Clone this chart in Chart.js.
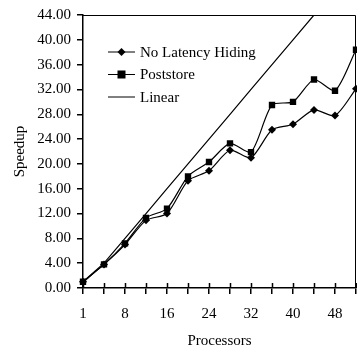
<!DOCTYPE html>
<html>
<head>
<meta charset="utf-8">
<script src="https://cdn.jsdelivr.net/npm/chart.js@4/dist/chart.umd.min.js"></script>
<style>
html,body{margin:0;padding:0;background:#fff;}
#wrap{width:357px;height:349px;position:relative;}
</style>
</head>
<body>
<div id="wrap"><canvas id="c" width="357" height="349"></canvas></div>
<script>
const processors = ['1','4','8','12','16','20','24','28','32','36','40','44','48','52'];
const noLatencyHiding = [1.0, 3.8, 7.0, 10.9, 12.0, 17.3, 18.9, 22.2, 21.0, 25.5, 26.4, 28.7, 27.8, 32.1];
const poststore = [1.0, 3.8, 7.2, 11.3, 12.8, 18.0, 20.3, 23.3, 21.9, 29.5, 30.0, 33.6, 31.8, 38.4];
const linear = [1, 4, 8, 12, 16, 20, 24, 28, 32, 36, 40, 44, 48, 52];
const seriesNames = ['No Latency Hiding', 'Poststore', 'Linear'];
const yMin = 0, yMax = 44, yStep = 4;

const FONT = '"Liberation Serif", "Times New Roman", serif';

const framePlugin = {
  id: 'frame',
  afterDraw(chart) {
    const ctx = chart.ctx, a = chart.chartArea;
    ctx.save();
    ctx.strokeStyle = '#000';
    ctx.lineWidth = 1;
    ctx.beginPath();
    ctx.moveTo(a.left, a.top + 0.5);
    ctx.lineTo(a.right - 0.5, a.top + 0.5);
    ctx.lineTo(a.right - 0.5, a.bottom);
    ctx.stroke();
    // inner halves of x ticks (ticks cross the axis)
    const xs = chart.scales.x;
    ctx.lineWidth = 1.5;
    ctx.beginPath();
    for (let i = 0; i < processors.length; i++) {
      const px = Math.round(xs.getPixelForValue(i)) + 0.5;
      ctx.moveTo(px, a.bottom);
      ctx.lineTo(px, a.bottom - 5);
    }
    ctx.stroke();
    // legend
    const items = chart.data.datasets;
    const lx0 = 108, lx1 = 135, tx = 140;
    const ys = [52, 74.5, 97];
    ctx.font = '15px ' + FONT;
    ctx.textBaseline = 'middle';
    ctx.fillStyle = '#000';
    items.forEach((ds, i) => {
      const y = ys[i];
      ctx.strokeStyle = '#000';
      ctx.lineWidth = 1;
      ctx.beginPath();
      ctx.moveTo(lx0, y);
      ctx.lineTo(lx1, y);
      ctx.stroke();
      const cx = (lx0 + lx1) / 2;
      if (ds.pointStyle === 'rectRot') {
        ctx.beginPath();
        ctx.moveTo(cx, y - 4); ctx.lineTo(cx + 4, y); ctx.lineTo(cx, y + 4); ctx.lineTo(cx - 4, y); ctx.closePath();
        ctx.fill();
      } else if (ds.pointStyle === 'rect') {
        ctx.fillRect(cx - 4, y - 4, 8, 8);
      }
      ctx.fillText(ds.label, tx, y + 1);
    });
    ctx.restore();
  }
};

function zeroPad(s) { s.paddingLeft = 0; s.paddingRight = 0; s.paddingTop = 0; s.paddingBottom = 0; }

new Chart(document.getElementById('c'), {
  type: 'line',
  data: {
    labels: processors,
    datasets: [
      { label: seriesNames[0], data: noLatencyHiding, borderColor: '#000', backgroundColor: '#000', borderWidth: 1.2,
        pointStyle: 'rectRot', pointRadius: 4, pointBorderWidth: 0, tension: 0.25 },
      { label: seriesNames[1], data: poststore, borderColor: '#000', backgroundColor: '#000', borderWidth: 1.2,
        pointStyle: 'rect', pointRadius: 4.5, pointBorderWidth: 0, tension: 0.25 },
      { label: seriesNames[2], data: linear, borderColor: '#000', backgroundColor: '#000', borderWidth: 1.2,
        pointRadius: 0, pointStyle: false, tension: 0 }
    ]
  },
  options: {
    responsive: false,
    animation: false,
    devicePixelRatio: 1,
    layout: { autoPadding: false, padding: { top: 15, right: 1, left: 0, bottom: 0 } },
    plugins: { legend: { display: false }, tooltip: { enabled: false } },
    scales: {
      x: {
        offset: false,
        grid: { drawOnChartArea: false, tickLength: 6, color: '#000', lineWidth: 1.5 },
        border: { display: true, color: '#000', width: 1.5 },
        ticks: {
          autoSkip: false, maxRotation: 0, color: '#000', padding: 11,
          font: { family: FONT, size: 15 },
          callback: function(v, i) { return i % 2 === 0 ? this.getLabelForValue(v) : ''; }
        },
        title: { display: true, text: 'Processors', color: '#000', font: { family: FONT, size: 15, lineHeight: 1.0 }, padding: { top: 8, bottom: 0 } },
        afterFit(s) { s.height = 61; zeroPad(s); }
      },
      y: {
        min: yMin, max: yMax,
        grid: { drawOnChartArea: false, tickLength: 6, color: '#000', lineWidth: 1.5 },
        border: { display: true, color: '#000', width: 1.5 },
        ticks: {
          stepSize: yStep, color: '#000', padding: 6,
          font: { family: FONT, size: 15 },
          callback: v => Number(v).toFixed(2)
        },
        title: { display: true, text: 'Speedup', color: '#000', font: { family: FONT, size: 15 }, padding: { top: 11, bottom: 0 } },
        afterFit(s) { s.width = 83; zeroPad(s); }
      }
    }
  },
  plugins: [framePlugin]
});
</script>
</body>
</html>
